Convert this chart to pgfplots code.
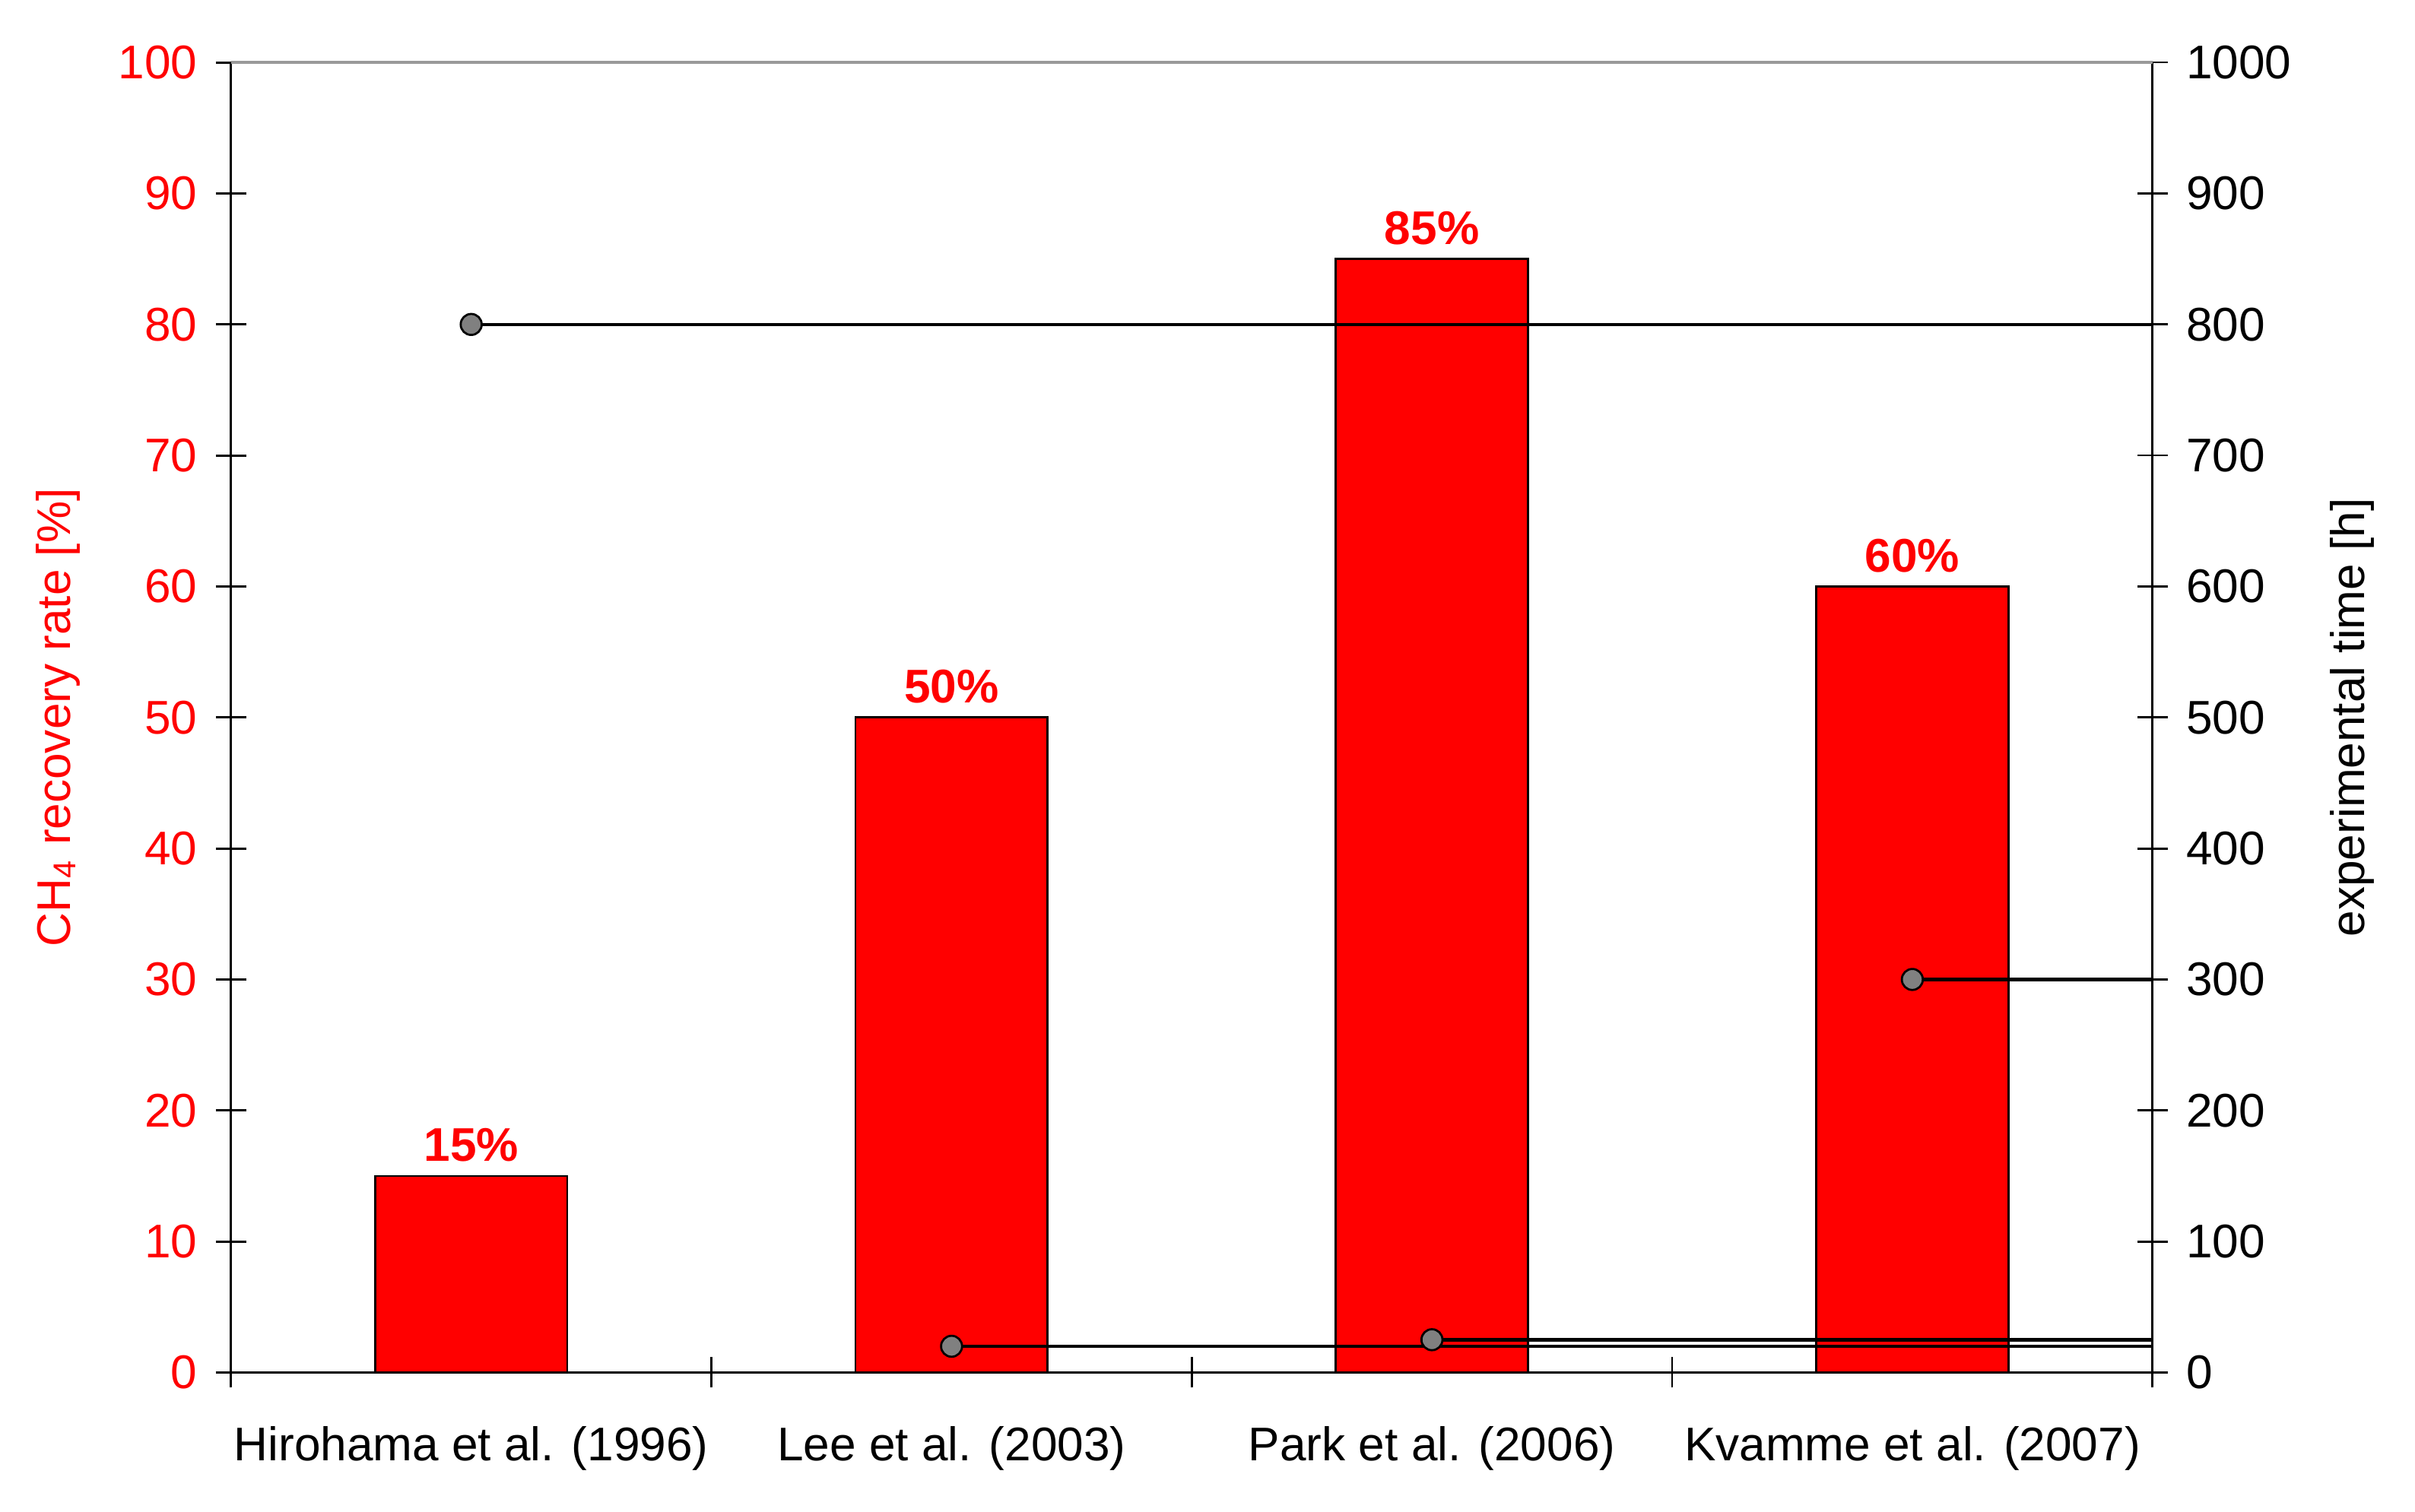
\documentclass[border=0pt]{standalone}
\usepackage{pgfplots}
\pgfplotsset{compat=1.18}
\usepackage{fontspec}
\setmainfont{Liberation Sans}
\begin{document}
\begin{tikzpicture}[font=\fontsize{9}{10.8}\selectfont]
\useasboundingbox (0,0) rectangle (460pt,288pt);
\begin{axis}[
  at={(44pt,26.5pt)}, anchor=south west,
  scale only axis, width=366pt, height=249.6pt,
  xmin=0.5, xmax=4.5, ymin=0, ymax=100,
  axis x line*=bottom, axis y line*=left,
  axis line style={black, line width=0.4pt, -},
  xtick={0.5,1.5,2.5,3.5,4.5},
  xticklabels={},
  extra x ticks={1,2,3,4},
  extra x tick labels={Hirohama et al. (1996), Lee et al. (2003), Park et al. (2006), Kvamme et al. (2007)},
  extra x tick style={major tick length=0pt, xticklabel style={yshift=-6.8pt}},
  major tick length=5.8pt,
  tick align=center,
  tick style={black, line width=0.4pt},
  every x tick/.append style={yshift=2.9pt},
  ytick={0,10,...,100},
  /pgf/number format/assume math mode=true,
  yticklabel style={red},
  every axis y label/.style={at={(axis description cs:-0.09,0.5)}, rotate=90, anchor=center},
  ylabel={CH\textsubscript{4} recovery rate [\%]},
  ylabel style={red},
  ybar, bar width=0.4,
  nodes near coords={\pgfmathprintnumber{\pgfplotspointmeta}\%},
  every node near coord/.append style={red, font=\bfseries\fontsize{9}{10.8}\selectfont, inner sep=2.5pt},
]
\addplot[fill=red, draw=black, line width=0.4pt] coordinates {(1,15) (2,50) (3,85) (4,60)};
\end{axis}
\begin{axis}[
  at={(44pt,26.5pt)}, anchor=south west,
  scale only axis, width=366pt, height=249.6pt,
  xmin=0.5, xmax=4.5, ymin=0, ymax=1000,
  axis x line=none, axis y line*=right,
  axis line style={black, line width=0.4pt, -},
  tick align=center, major tick length=5.8pt,
  tick style={black, line width=0.4pt},
  ytick={0,100,...,1000},
  /pgf/number format/assume math mode=true,
  /pgf/number format/1000 sep={},
  every axis y label/.style={at={(axis description cs:1.104,0.5)}, rotate=90, anchor=center},
  ylabel={experimental time [h]},
  clip=false,
]
\draw[gray!80, line width=0.5pt] (rel axis cs:0,1) -- (rel axis cs:1,1);
\addplot[black, line width=0.65pt, mark=*, mark size=2pt, mark indices={1}, mark options={fill=gray, draw=black, line width=0.4pt}] coordinates {(1,800) (4.5,800)};
\addplot[black, line width=0.65pt, mark=*, mark size=2pt, mark indices={1}, mark options={fill=gray, draw=black, line width=0.4pt}] coordinates {(2,20) (4.5,20)};
\addplot[black, line width=0.65pt, mark=*, mark size=2pt, mark indices={1}, mark options={fill=gray, draw=black, line width=0.4pt}] coordinates {(3,25) (4.5,25)};
\addplot[black, line width=0.65pt, mark=*, mark size=2pt, mark indices={1}, mark options={fill=gray, draw=black, line width=0.4pt}] coordinates {(4,300) (4.5,300)};
\end{axis}
\end{tikzpicture}
\end{document}
